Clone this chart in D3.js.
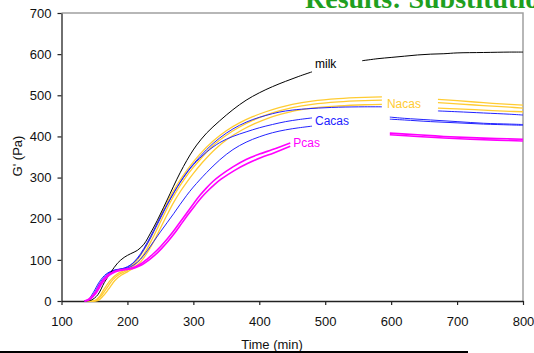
<!DOCTYPE html>
<html>
<head>
<meta charset="utf-8">
<script src="https://cdn.jsdelivr.net/npm/d3@7"></script>
<style>
  body { margin: 0; background: #fff; }
  svg { display: block; font-family: Arial, "Liberation Sans", sans-serif; }
</style>
</head>
<body>
<div id="viz"></div>
<script>
// G' (Pa) vs time (min), null = gap in the recording
var milk = [[135,0],[145,2],[155,15],[165,45],[175,70],[185,92],[195,106],[205,115],[215,123],[225,138],[235,165],[245,195],[255,228],[265,262],[275,296],[285,327],[295,355],[305,379],[320,408],[340,438],[360,465],[380,488],[400,506],[420,521],[440,534],[460,546],[480,557],
  null,[556,584],[580,589],[600,592],[620,595],[640,598],[660,600],[680,601],[700,603],[740,604],[780,605],[800,605]];

var nacas1 = [[135,0],[150,1],[158,12],[165,30],[175,52],[185,66],[195,74],[205,84],[215,100],[225,124],[235,154],[245,188],[255,222],[265,254],[275,282],[285,306],[295,328],[310,357],[330,389],[350,414],[370,433],[390,448],[410,460],[430,470],[450,478],[480,486],[520,492],[560,495],[586,496],
  null,[671,490],[700,487],[740,482],[780,478],[800,476]];
var nacas2 = [[135,0],[152,1],[160,12],[168,30],[178,52],[188,65],[198,73],[208,83],[218,98],[228,122],[238,152],[248,185],[258,218],[268,249],[278,276],[288,300],[298,321],[312,347],[330,378],[350,403],[370,423],[390,439],[410,452],[430,462],[450,470],[480,478],[520,484],[560,487],[586,488],
  null,[671,482],[700,479],[740,475],[780,471],[800,469]];
var nacas3 = [[135,0],[155,1],[163,12],[171,28],[181,50],[191,63],[201,72],[211,82],[221,97],[231,120],[241,148],[251,180],[261,212],[271,242],[281,268],[291,291],[301,312],[315,339],[333,369],[353,395],[373,415],[393,431],[413,444],[433,454],[453,462],[480,469],[520,474],[560,477],[586,478],
  null,[671,469],[700,467],[740,464],[780,461],[800,460]];

var cacas1 = [[135,0],[142,3],[150,20],[160,48],[170,66],[180,75],[190,78],[200,82],[210,95],[220,115],[230,142],[240,172],[250,204],[260,234],[270,262],[280,288],[290,311],[300,331],[320,362],[340,385],[360,400],[380,411],[400,421],[420,429],[440,436],[460,441],[480,445],
  null,[598,447],[620,444],[660,440],[700,436],[740,432],[780,430],[800,429]];
var cacas2 = [[135,0],[140,2],[148,20],[158,48],[168,66],[178,74],[190,77],[200,80],[210,88],[220,102],[230,122],[240,145],[250,168],[260,190],[270,212],[280,235],[290,257],[300,277],[320,312],[340,343],[360,368],[380,386],[400,399],[420,409],[440,416],[460,421],[480,425],
  null,[598,442],[620,440],[660,436],[700,433],[740,430],[780,428],[800,427]];
var cacas3 = [[135,0],[145,5],[155,28],[165,55],[175,70],[185,76],[195,80],[205,88],[215,102],[225,125],[235,153],[245,185],[255,217],[265,248],[275,276],[285,301],[295,323],[310,351],[330,383],[350,408],[370,427],[390,441],[410,451],[430,459],[450,464],[480,468],[520,471],[560,472],[586,472],
  null,[671,462],[700,460],[740,457],[780,454],[800,452]];

var pcas1 = [[135,0],[140,3],[150,18],[160,45],[170,63],[180,72],[190,76],[200,78],[210,82],[220,90],[230,102],[240,116],[250,132],[260,150],[270,170],[280,192],[290,214],[300,236],[310,257],[320,275],[330,291],[340,304],[360,326],[380,344],[400,357],[420,368],[447,384],
  null,[598,408],[640,404],[680,400],[720,397],[760,395],[800,393]];
var pcas2 = [[135,0],[142,3],[152,18],[162,44],[172,62],[182,71],[192,75],[202,77],[212,81],[222,88],[232,99],[242,112],[252,128],[262,146],[272,166],[282,188],[292,210],[302,231],[312,251],[322,268],[332,283],[342,296],[362,317],[382,334],[402,348],[422,360],[447,376],
  null,[598,404],[640,400],[680,396],[720,393],[760,391],[800,389]];

var xTicks = [100, 200, 300, 400, 500, 600, 700, 800];
var yTicks = [0, 100, 200, 300, 400, 500, 600, 700];

var series = [
  {data: nacas1, color: "#ffcc33", w: 1.3},
  {data: nacas2, color: "#ffcc33", w: 1.3},
  {data: nacas3, color: "#ffcc33", w: 1.3},
  {data: cacas1, color: "#2222ff", w: 1},
  {data: cacas2, color: "#2222ff", w: 1},
  {data: cacas3, color: "#2222ff", w: 1},
  {data: milk, color: "#000000", w: 1},
  {data: pcas1, color: "#ff00ff", w: 1.6},
  {data: pcas2, color: "#ff00ff", w: 1.6}
];

var labels = [
  {text: "milk", t: 480, v: 557, dx: 3, dy: -4, color: "#000"},
  {text: "Nacas", t: 586, v: 496, dx: 5, dy: 11, color: "#ffcc33"},
  {text: "Cacas", t: 480, v: 445, dx: 3, dy: 7, color: "#2222ff"},
  {text: "Pcas", t: 447, v: 384, dx: 3, dy: 4, color: "#ff00ff"}
];

var svgWidth = 534, svgHeight = 353;
var plotLeft = 61.5, plotRight = 523, plotTop = 13, plotBottom = 301;

var x = d3.scaleLinear().domain([100, 800]).range([plotLeft, plotRight]);
var y = d3.scaleLinear().domain([0, 700]).range([plotBottom, plotTop]);

var svg = d3.select("#viz").append("svg").attr("width", svgWidth).attr("height", svgHeight);

// slide title, cut off at the top
svg.append("text")
    .attr("x", 305)
    .attr("y", 8)
    .attr("font-family", "'Liberation Serif', 'Times New Roman', serif")
    .attr("font-weight", "bold")
    .attr("font-size", 28)
    .attr("fill", "#1f9f1f")
    .text("Results: Substitution");

// grey frame top / right
svg.append("path")
    .attr("d", "M" + plotLeft + "," + plotTop + "H" + plotRight + "V" + plotBottom)
    .attr("fill", "none")
    .attr("stroke", "#a0a0a0")
    .attr("stroke-width", 1.5);

var xAxis = svg.append("g")
    .attr("transform", "translate(0," + plotBottom + ")")
    .call(d3.axisBottom(x).tickValues(xTicks).tickSize(4).tickPadding(12).tickSizeOuter(0));
var yAxis = svg.append("g")
    .attr("transform", "translate(" + plotLeft + ",0)")
    .call(d3.axisLeft(y).tickValues(yTicks).tickSize(4).tickPadding(6).tickSizeOuter(0));

[xAxis, yAxis].forEach(function (g) {
    g.selectAll("text").attr("font-size", 13).attr("font-family", "Arial, 'Liberation Sans', sans-serif").attr("fill", "#111");
    g.select(".domain").attr("stroke", "#222").attr("stroke-width", 1.3);
    g.selectAll(".tick line").attr("stroke", "#222").attr("stroke-width", 1.2);
});

var line = d3.line()
    .defined(function (d) { return d !== null; })
    .x(function (d) { return x(d[0]); })
    .y(function (d) { return y(d[1]); })
    .curve(d3.curveCatmullRom);

svg.append("g").selectAll("path")
    .data(series)
    .enter()
    .append("path")
    .attr("d", function (d) { return line(d.data); })
    .attr("fill", "none")
    .attr("stroke", function (d) { return d.color; })
    .attr("stroke-width", function (d) { return d.w; });

svg.append("g").selectAll("text")
    .data(labels)
    .enter()
    .append("text")
    .attr("x", function (d) { return x(d.t) + d.dx; })
    .attr("y", function (d) { return y(d.v) + d.dy; })
    .attr("font-size", 12)
    .attr("fill", function (d) { return d.color; })
    .text(function (d) { return d.text; });

svg.append("text")
    .attr("x", 272)
    .attr("y", 349)
    .attr("text-anchor", "middle")
    .attr("font-size", 13)
    .attr("fill", "#111")
    .text("Time (min)");

svg.append("text")
    .attr("transform", "translate(22,156) rotate(-90)")
    .attr("text-anchor", "middle")
    .attr("font-size", 13)
    .attr("fill", "#111")
    .text("G' (Pa)");

// rule under the chart
svg.append("line")
    .attr("x1", 0).attr("x2", 468)
    .attr("y1", 352).attr("y2", 352)
    .attr("stroke", "#000")
    .attr("stroke-width", 2);
</script>
</body>
</html>
